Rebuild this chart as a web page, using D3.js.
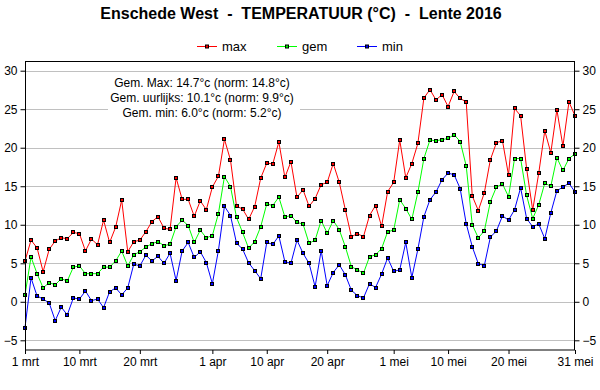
<!DOCTYPE html>
<html><head><meta charset="utf-8">
<script src="https://cdn.jsdelivr.net/npm/d3@7"></script>
<style>
body{margin:0;background:#fff;}
text{font-family:"Liberation Sans",Arial,sans-serif;}
</style></head>
<body><svg id="c" width="600" height="390"></svg>
<script>
const title = "Enschede West  -  TEMPERATUUR (°C)  -  Lente 2016";
const seriesNames = ["max","gem","min"];
const seriesColors = ["#ff0000","#00ff00","#0000ff"];
const startDate = "2016-03-01";
const maxValues = [5.3,8.0,7.0,3.9,6.8,7.9,8.3,8.2,9.0,8.85,6.6,8.15,7.4,10.6,7.7,9.7,13.2,6.5,7.8,8.0,9.1,10.4,11.05,
 9.55,9.4,16.1,13.3,13.3,11.1,13.1,11.95,14.9,16.3,21.1,18.4,12.4,12.05,10.7,12.35,16.05,18.0,17.9,20.75,16.15,18.2,
 13.55,14.55,12.4,13.4,15.2,15.5,17.95,15.5,11.95,8.45,8.85,8.45,11.2,12.5,9.8,14.3,15.5,21.0,16.1,17.95,20.55,
 26.45,27.55,26.2,26.9,25.35,27.3,26.4,25.95,13.75,11.85,14.15,18.45,20.65,20.9,16.45,25.1,24.15,17.25,11.9,16.7,22.2,19.35,24.95,20.2,25.95,24.15];
const gemValues = [0.9,5.8,3.65,1.8,2.5,2.2,3.0,2.7,4.5,4.65,3.65,3.65,3.65,4.5,4.5,5.3,6.6,4.65,6.1,6.5,7.1,7.55,7.8,
 7.3,7.45,9.75,10.6,9.9,7.7,9.3,8.3,8.6,11.45,16.25,14.95,10.95,9.0,6.95,7.8,9.75,12.7,12.5,13.6,11.0,11.2,
 10.3,10.1,7.6,8.0,10.55,8.9,10.55,9.35,7.15,4.55,4.15,3.7,5.85,6.1,6.9,9.1,9.3,13.25,12.1,10.7,14.2,
 18.6,21.0,20.9,21.05,21.2,21.7,20.8,17.65,10.0,8.3,9.2,13.0,14.9,15.3,13.65,18.6,18.6,13.8,10.8,12.6,15.4,15.0,18.7,17.05,18.6,19.2];
const minValues = [-3.35,3.1,0.75,0.35,-0.15,-2.45,-0.7,-1.7,0.5,0.35,1.4,0.15,0.35,-0.75,1.3,1.8,0.9,1.8,4.9,4.65,6.05,5.3,5.9,
 5.0,6.3,2.75,6.6,7.7,5.75,6.5,5.1,2.35,6.65,12.4,11.2,7.6,6.85,5.05,4.05,3.0,7.7,7.45,8.55,5.2,5.0,
 8.0,6.3,5.0,1.95,6.65,2.1,3.8,4.8,3.5,1.5,0.8,0.5,2.35,1.85,3.6,5.7,3.95,4.15,7.7,3.15,6.8,
 11.05,13.25,14.25,15.85,16.7,16.5,14.7,10.15,7.15,4.95,4.7,8.4,9.2,11.15,10.6,11.95,14.8,10.8,9.75,10.1,8.2,11.55,14.4,14.9,15.4,14.25];
const yTicks = [-5,0,5,10,15,20,25,30];
const xTickDates = ["2016-03-01","2016-03-10","2016-03-20","2016-04-01","2016-04-10","2016-04-20","2016-05-01","2016-05-10","2016-05-20","2016-05-31"];
const xTickLabels = ["1 mrt","10 mrt","20 mrt","1 apr","10 apr","20 apr","1 mei","10 mei","20 mei","31 mei"];
const infoLines = ["Gem. Max: 14.7°c (norm: 14.8°c)","Gem. uurlijks: 10.1°c (norm: 9.9°c)","Gem. min: 6.0°c (norm: 5.2°c)"];

const svg = d3.select("#c");
const parse = d3.utcParse("%Y-%m-%d");
const d0 = parse(startDate);
const dates = maxValues.map((v,i)=>d3.utcDay.offset(d0,i));
const L=25, R=575, T=61, B=350.5;
const x = d3.scaleUtc().domain([dates[0], dates[dates.length-1]]).range([L,R]);
const y = d3.scaleLinear().domain([-5,30]).range([340.3,70.7]);

// gridlines
svg.append("g").selectAll("line").data(yTicks).join("line")
  .attr("x1",L).attr("x2",R).attr("y1",d=>Math.round(y(d))+0.5).attr("y2",d=>Math.round(y(d))+0.5)
  .attr("stroke","#c0c0c0").attr("stroke-width",1);

// info box
svg.append("rect").attr("x",108).attr("y",73).attr("width",192).attr("height",44).attr("fill","#fff");
svg.append("g").selectAll("text").data(infoLines).join("text")
  .attr("x",202).attr("y",(d,i)=>87+i*15).attr("text-anchor","middle")
  .attr("font-size",12).attr("fill","#000").text(d=>d);

// series
const all = [maxValues, gemValues, minValues];
const line = d3.line().x((d,i)=>x(dates[i])).y(d=>y(d));
all.forEach((vals,si)=>{
  svg.append("path").attr("d",line(vals)).attr("fill","none").attr("stroke",seriesColors[si]).attr("stroke-width",1);
});
all.forEach((vals,si)=>{
  svg.append("g").selectAll("rect").data(vals).join("rect")
    .attr("x",(d,i)=>Math.round(x(dates[i]))-1.5).attr("y",d=>Math.round(y(d))-1.5)
    .attr("width",3).attr("height",3).attr("fill",seriesColors[si])
    .attr("stroke","#000").attr("stroke-width",1);
});

// frame
svg.append("rect").attr("x",L+0.5).attr("y",T+0.5).attr("width",R-L-1).attr("height",B-T-1)
  .attr("fill","none").attr("stroke","#000").attr("stroke-width",1);

// axes
const yl = svg.append("g").attr("transform",`translate(${L+0.5},0)`)
  .call(d3.axisLeft(y).tickValues(yTicks).tickSize(5).tickPadding(3).tickFormat(d3.format("d")));
const yr = svg.append("g").attr("transform",`translate(${R-0.5},0)`)
  .call(d3.axisRight(y).tickValues(yTicks).tickSize(5).tickPadding(3).tickFormat(d3.format("d")));
const xa = svg.append("g").attr("transform",`translate(0,${B-0.5})`)
  .call(d3.axisBottom(x).tickValues(xTickDates.map(parse)).tickSize(4).tickPadding(3)
    .tickFormat((d,i)=>xTickLabels[i]));
[yl,yr,xa].forEach(g=>{
  g.select(".domain").remove();
  g.selectAll("text").attr("font-size",12).attr("fill","#000").attr("font-family","'Liberation Sans',Arial,sans-serif");
  g.selectAll("line").attr("stroke","#000");
});

// title
svg.append("text").attr("x",301).attr("y",19).attr("text-anchor","middle")
  .attr("font-size",16).attr("font-weight","bold").style("white-space","pre").text(title);

// legend
const legX = [197,277,357];
seriesNames.forEach((n,i)=>{
  const g = svg.append("g");
  g.append("line").attr("x1",legX[i]).attr("x2",legX[i]+20).attr("y1",46.5).attr("y2",46.5)
    .attr("stroke",seriesColors[i]).attr("stroke-width",1);
  g.append("rect").attr("x",legX[i]+8.5).attr("y",45).attr("width",3).attr("height",3)
    .attr("fill",seriesColors[i]).attr("stroke","#000");
  g.append("text").attr("x",legX[i]+25).attr("y",51).attr("font-size",13).text(n);
});
</script></body></html>
